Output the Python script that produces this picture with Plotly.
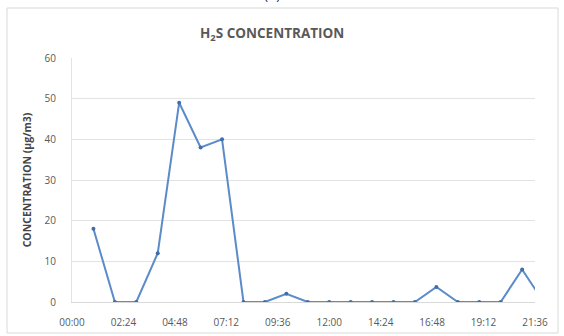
import plotly.graph_objects as go

# Data: hour of day (hours) and H2S concentration (µg/m3)
hours = [1, 2, 3, 4, 5, 6, 7, 8, 9, 10, 11, 12, 13, 14, 15, 16, 17, 18, 19, 20, 21, 22]
concentration = [18, 0, 0, 12, 49, 38, 40, 0, 0, 2, 0, 0, 0, 0, 0, 0, 3.7, 0, 0, 0, 8, 0]

tick_hours = [0, 2.4, 4.8, 7.2, 9.6, 12.0, 14.4, 16.8, 19.2, 21.6]
tick_labels = ["00:00", "02:24", "04:48", "07:12", "09:36", "12:00", "14:24", "16:48", "19:12", "21:36"]
y_ticks = [0, 10, 20, 30, 40, 50, 60]

W, H = 564, 336
L, R, T, B = 72, 29, 58, 34
pw, ph = W - L - R, H - T - B

def px_x(p):
    return (p - L) / pw

def px_y(p):
    return (H - B - p) / ph

fig = go.Figure()
fig.add_trace(go.Scatter(
    x=hours, y=concentration, mode="lines+markers",
    line=dict(color="#5b8bc9", width=2),
    marker=dict(color="#3f6ea8", size=4),
    cliponaxis=True, showlegend=False,
))

fig.update_layout(
    width=W, height=H,
    margin=dict(l=L, r=R, t=T, b=B, autoexpand=False),
    paper_bgcolor="white", plot_bgcolor="white",
    font=dict(family="Open Sans, Liberation Sans, sans-serif", color="#595959"),
    xaxis=dict(
        range=[0, 21.6], tickvals=tick_hours, ticktext=tick_labels, automargin=False,
        showgrid=False, zeroline=False, showline=True, linecolor="#d9d9d9", linewidth=1,
        ticks="", tickfont=dict(size=10, color="#595959"), ticklabelstandoff=11,
    ),
    yaxis=dict(
        range=[0, 60], tickvals=y_ticks, automargin=False,
        showgrid=True, gridcolor="#e3e3e3", gridwidth=1,
        zeroline=False, showline=True, linecolor="#e3e3e3", linewidth=1,
        ticks="", tickfont=dict(size=10, color="#595959"), ticklabelstandoff=13,
        title=dict(text="<b>CONCENTRATION (µg/m3)</b>", font=dict(size=10.5, color="#454545"), standoff=10),
    ),
    annotations=[
        dict(text="<b>H<sub>2</sub>S CONCENTRATION</b>", xref="paper", yref="paper",
             x=px_x(272), y=px_y(34), xanchor="center", yanchor="middle", showarrow=False,
             font=dict(size=13.5, color="#595959")),
        dict(text="(2)", xref="paper", yref="paper",
             x=px_x(272), y=px_y(5), xanchor="center", yanchor="bottom", showarrow=False,
             font=dict(size=14, color="#333333")),
    ],
    shapes=[
        dict(type="rect", xref="paper", yref="paper",
             x0=px_x(7), x1=px_x(558), y0=px_y(333), y1=px_y(8),
             line=dict(color="#d9d9d9", width=1), layer="below"),
    ],
)

fig.write_html("out.html", config={"displayModeBar": False},
               post_script="document.body.style.margin='0';document.body.style.overflow='hidden';")
